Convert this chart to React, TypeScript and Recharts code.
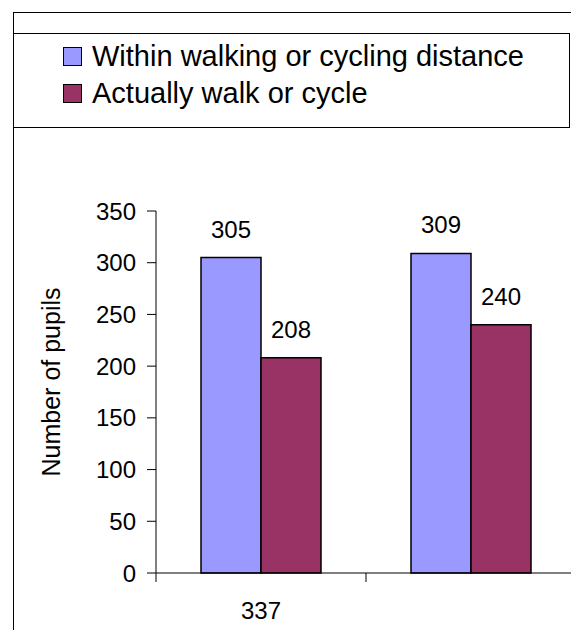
import React from 'react';
import { BarChart, Bar, XAxis, YAxis, Legend, LabelList } from 'recharts';

const categories = ['337', ''];
const withinDistance = [305, 309];
const actuallyWalk = [208, 240];
const yTicks = [0, 50, 100, 150, 200, 250, 300, 350];

const seriesNames = {
  within: 'Within walking or cycling distance',
  actual: 'Actually walk or cycle',
};
const seriesOrder = [seriesNames.within, seriesNames.actual];

const data = categories.map((name, i) => ({
  name,
  within: withinDistance[i],
  actual: actuallyWalk[i],
}));

const FONT = '"Liberation Sans", Arial, sans-serif';
const CHART_W = 590;
const CHART_H = 630;
const MARGIN = { top: 211, right: 14, bottom: 0, left: 8 };
const Y_AXIS_W = 148;
const BAND = (CHART_W - MARGIN.left - MARGIN.right - Y_AXIS_W) / categories.length;

const XTick = (props: any) => {
  const { x, y, payload, index } = props;
  const last = index === categories.length - 1;
  return (
    <g>
      <line x1={x - BAND / 2} x2={x - BAND / 2} y1={y} y2={y + 9} stroke="#000" />
      {last && <line x1={x + BAND / 2} x2={x + BAND / 2} y1={y} y2={y + 9} stroke="#000" />}
      <text x={x} y={y + 46} textAnchor="middle" fontSize={24} fontFamily={FONT} fill="#000">
        {payload.value}
      </text>
    </g>
  );
};

const LegendBox = (props: any) => {
  // keep the series order (legend sorts by name otherwise)
  const items = [...(props.payload || [])].sort(
    (a: any, b: any) => seriesOrder.indexOf(a.value) - seriesOrder.indexOf(b.value)
  );
  return (
    <div
      style={{
        boxSizing: 'border-box',
        width: 557,
        height: 95,
        border: '1px solid #000',
        background: '#fff',
        paddingTop: 4,
        fontFamily: FONT,
      }}
    >
      {items.map((entry: any) => (
        <div key={entry.value} style={{ display: 'flex', alignItems: 'center', height: 37 }}>
          <span
            style={{
              boxSizing: 'border-box',
              display: 'inline-block',
              width: 19,
              height: 19,
              marginLeft: 49,
              marginRight: 10,
              background: entry.color,
              border: '1.5px solid #000',
            }}
          />
          <span style={{ fontSize: 29, lineHeight: '37px', color: '#000' }}>{entry.value}</span>
        </div>
      ))}
    </div>
  );
};

const YLabel = (props: any) => {
  const { viewBox } = props;
  const cx = viewBox.x + 52;
  const cy = viewBox.y + viewBox.height / 2 - 10;
  return (
    <text
      x={cx}
      y={cy}
      textAnchor="middle"
      transform={`rotate(-90, ${cx}, ${cy})`}
      fontSize={25}
      fontFamily={FONT}
      fill="#000"
    >
      Number of pupils
    </text>
  );
};

export default function App() {
  return (
    <div
      style={{
        position: 'fixed',
        left: 0,
        top: 0,
        width: 571,
        height: 630,
        overflow: 'hidden',
        background: '#fff',
      }}
    >
      {/* chart area frame, right and bottom edges fall outside the picture */}
      <div
        style={{
          position: 'absolute',
          left: 13,
          top: 12,
          width: 700,
          height: 700,
          borderLeft: '1px solid #000',
          borderTop: '1px solid #000',
        }}
      />
      <div style={{ position: 'absolute', left: 0, top: 0 }}>
        <BarChart width={CHART_W} height={CHART_H} data={data} margin={MARGIN} barGap={0} barSize={60}>
          <XAxis
            dataKey="name"
            axisLine={{ stroke: '#000' }}
            tickLine={false}
            tickSize={0}
            tickMargin={0}
            interval={0}
            height={CHART_H - 573}
            tick={<XTick />}
          />
          <YAxis
            domain={[0, 350]}
            ticks={yTicks}
            width={Y_AXIS_W}
            axisLine={{ stroke: '#000' }}
            tickLine={{ stroke: '#000' }}
            tickSize={9}
            tickMargin={11}
            tick={{ fontSize: 24, fontFamily: FONT, fill: '#000' }}
            label={<YLabel />}
          />
          <Legend
            layout="vertical"
            align="center"
            verticalAlign="middle"
            wrapperStyle={{ left: 13, top: 33, width: 557, height: 95 }}
            content={<LegendBox />}
          />
          <Bar
            dataKey="within"
            name={seriesNames.within}
            fill="#9999FF"
            stroke="#000"
            strokeWidth={1.5}
            isAnimationActive={false}
          >
            <LabelList dataKey="within" position="top" offset={20} fontSize={24} fontFamily={FONT} fill="#000" />
          </Bar>
          <Bar
            dataKey="actual"
            name={seriesNames.actual}
            fill="#993366"
            stroke="#000"
            strokeWidth={1.5}
            isAnimationActive={false}
          >
            <LabelList dataKey="actual" position="top" offset={20} fontSize={24} fontFamily={FONT} fill="#000" />
          </Bar>
        </BarChart>
      </div>
    </div>
  );
}
